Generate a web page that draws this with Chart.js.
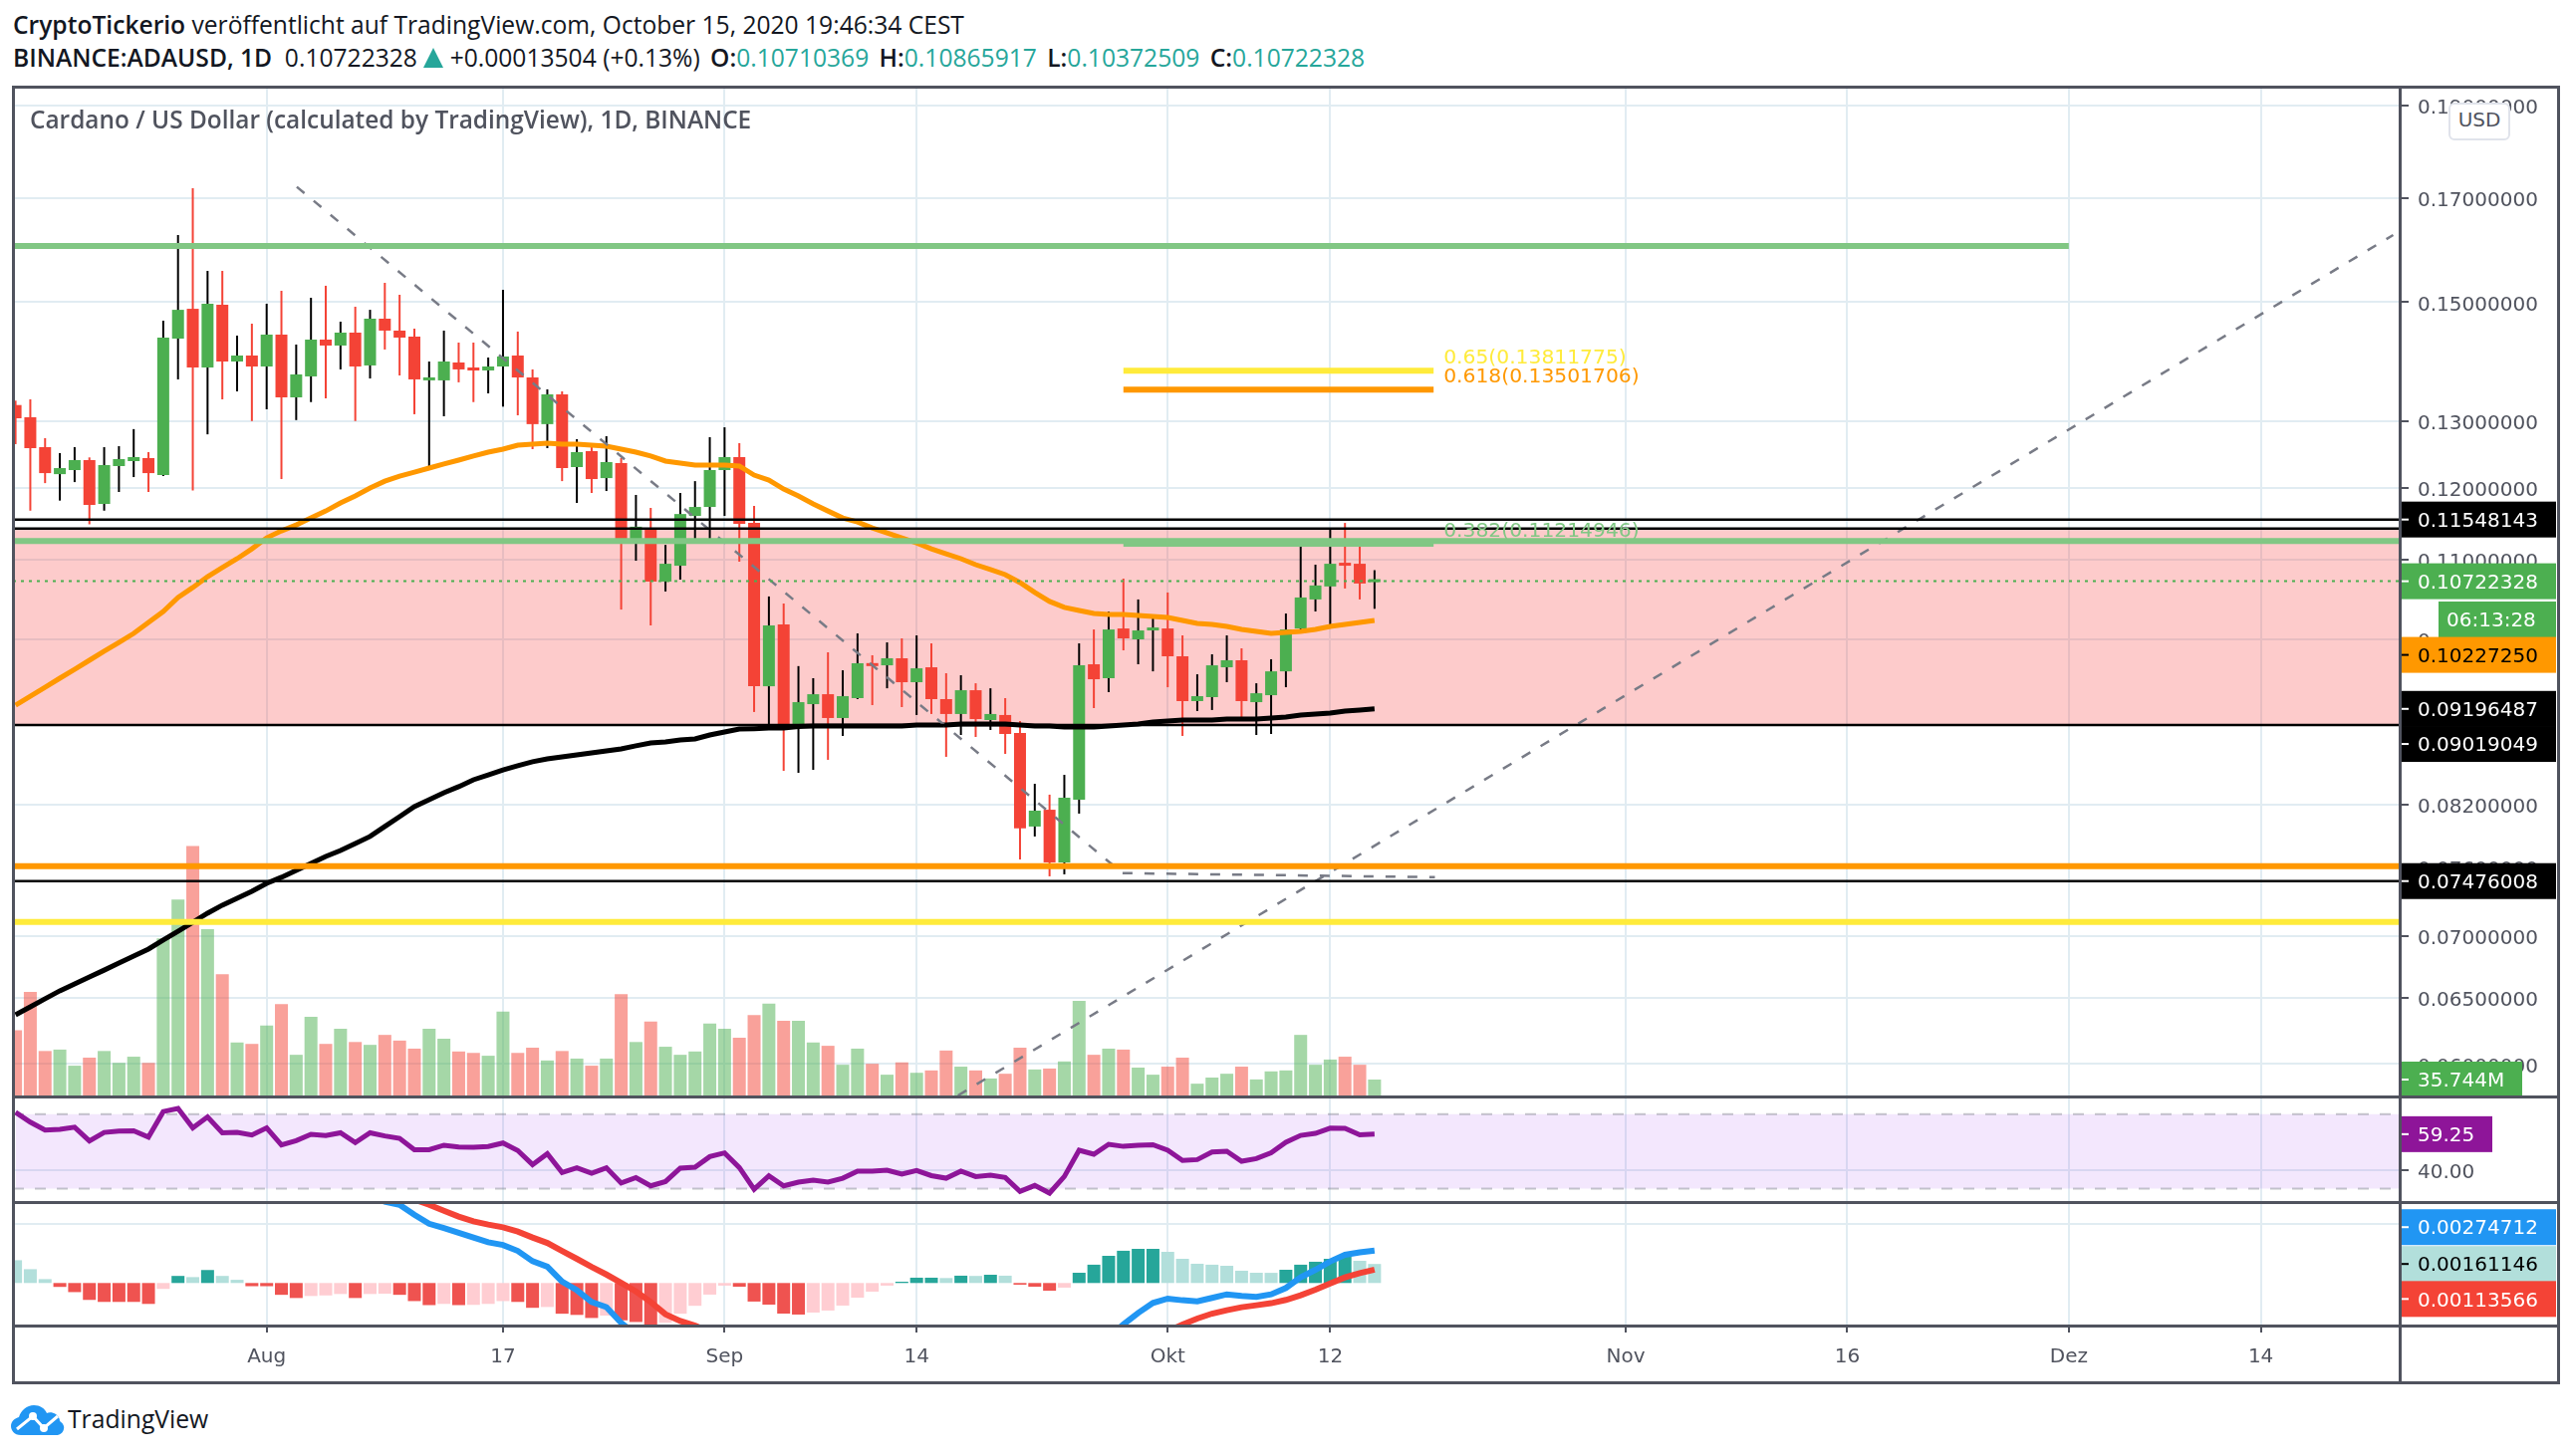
<!DOCTYPE html>
<html>
<head>
<meta charset="utf-8">
<script src="https://cdn.jsdelivr.net/npm/chart.js@4/dist/chart.umd.js"></script>
<style>
  html, body { margin: 0; padding: 0; background: #fff; }
  body { width: 2582px; height: 1462px; position: relative; overflow: hidden; font-family: "Open Sans", sans-serif; color: #131722; }
  canvas { position: absolute; left: 0; }
  .line { position: absolute; background: #50535e; }
  .head { position: absolute; left: 13px; font-size: 24.6px; white-space: pre; line-height: 32px; }
  .head b { font-weight: 600; }
  .head b.gap { margin-left: 4px; }
  .up { color: #26a69a; }
  .tri { display: inline-block; width: 0; height: 0; border-left: 10px solid transparent; border-right: 10px solid transparent; border-bottom: 20px solid #26a69a; vertical-align: -1px; }
  #title { position: absolute; left: 30px; top: 104px; font-size: 24.4px; font-weight: 600; color: #50535e; white-space: pre; line-height: 32px; }
  #usd { position: absolute; left: 2458px; top: 103px; width: 58px; height: 34px; border: 2px solid #e0e3eb; border-radius: 6px; background: #fff; color: #50535e; font: 20px "DejaVu Sans", sans-serif; text-align: center; line-height: 30px; }
  #brand { position: absolute; left: 68px; top: 1409px; font-size: 24.7px; line-height: 32px; color: #131722; }
  #logo { position: absolute; left: 11px; top: 1410px; }
</style>
</head>
<body>
<div class="head" style="top:9px"><b>CryptoTickerio</b> veröffentlicht auf TradingView.com, October 15, 2020 19:46:34 CEST</div>
<div class="head" style="top:42px"><b>BINANCE:ADAUSD, 1D</b>  0.10722328 <span class="tri"></span> +0.00013504 (+0.13%) <b class="gap">O:</b><span class="up">0.10710369</span> <b class="gap">H:</b><span class="up">0.10865917</span> <b class="gap">L:</b><span class="up">0.10372509</span> <b class="gap">C:</b><span class="up">0.10722328</span></div>

<canvas id="priceChart" width="2582" height="1014" style="top:87px"></canvas>
<canvas id="rsiChart" width="2582" height="106" style="top:1101px"></canvas>
<canvas id="macdChart" width="2582" height="182" style="top:1207px"></canvas>

<div class="line" style="left:12px;top:86px;width:2558px;height:3px"></div>
<div class="line" style="left:12px;top:1100px;width:2558px;height:3px"></div>
<div class="line" style="left:12px;top:1206px;width:2558px;height:3px"></div>
<div class="line" style="left:12px;top:1330px;width:2558px;height:3px"></div>
<div class="line" style="left:12px;top:1387px;width:2558px;height:3px"></div>
<div class="line" style="left:12px;top:86px;width:3px;height:1304px"></div>
<div class="line" style="left:2408px;top:86px;width:3px;height:1304px"></div>
<div class="line" style="left:2567px;top:86px;width:3px;height:1304px"></div>

<div id="title">Cardano / US Dollar (calculated by TradingView), 1D, BINANCE</div>
<div id="usd">USD</div>
<svg id="logo" width="54" height="32" viewBox="0 0 54 32">
  <path fill="#2196f3" d="M10 31 C3 31 0 26 0 22 C0 17 4 14 8 13 C10 6 16 1 23 1 C29 1 34 4 36 9 C38 8 42 8 45 10 C48 12 49 15 49 17 C52 19 54 22 53 25 C52 29 49 31 45 31 Z"/>
  <polyline fill="none" stroke="#fff" stroke-width="3" points="6,25 22,12 33,24 47,12"/>
  <circle cx="22" cy="12" r="4" fill="#fff"/>
  <circle cx="33" cy="24" r="4" fill="#fff"/>
</svg>
<div id="brand">TradingView</div>

<script>
// candles start on 15 Jul 2020, one entry per day
const opens = [
  .13253,.13060,.12598,.12196,.12256,.12404,.11767,.12315,.12389,.12434,
  .12182,.14355,.14879,.13865,.14952,.13965,.14066,.13882,.14424,.13376,
  .13717,.14338,.14236,.14459,.13899,.14703,.14494,.14390,.13652,.13652,
  .13949,.13855,.13816,.13882,.14066,.13700,.12952,.13424,.12300,.12538,
  .12138,.12360,.11228,.11433,.10718,.10924,.11598,.11724,.12256,.12449,
  .11501,.09450,.10179,.08999,.09249,.09360,.09096,.09316,.09715,.09691,
  .09773,.09496,.09668,.09305,.09140,.09405,.09074,.09129,.08934,.07983,
  .08146,.07646,.08245,.09703,.09542,.10130,.09998,.10106,.10130,.09797,
  .09283,.09327,.09668,.09750,.09271,.09349,.09621,.10130,.10490,.10655,
  .10963,.10950,.10710369];
const closes = [
  .13044,.12583,.12211,.12285,.12404,.11753,.12330,.12419,.12449,.12211,
  .14372,.14861,.13865,.14970,.13965,.14066,.13882,.14424,.13376,.13750,
  .14338,.14236,.14459,.13882,.14703,.14494,.14372,.13668,.13683,.13965,
  .13833,.13815,.13882,.14049,.13700,.12952,.13424,.12285,.12523,.12124,
  .12374,.11228,.11449,.10718,.10950,.11625,.11724,.12256,.12449,.11487,
  .09450,.10167,.08999,.09271,.09360,.09096,.09338,.09715,.09682,.09773,
  .09496,.09656,.09305,.09140,.09405,.09085,.09140,.08923,.07965,.08137,
  .07646,.08265,.09691,.09530,.10118,.10010,.10106,.10130,.09797,.09283,
  .09338,.09691,.09750,.09283,.09371,.09621,.10118,.10515,.10668,.10950,
  .10924,.10693,.10722328];
const highs = [
  .13323,.13344,.12735,.12509,.12598,.12444,.12598,.12613,.12875,.12523,
  .14668,.16259,.17201,.15573,.15573,.14407,.14615,.14970,.15205,.14253,
  .15078,.15297,.14651,.14916,.14861,.15351,.15132,.14528,.13965,.14494,
  .14287,.14287,.14032,.15223,.14477,.13833,.13505,.13472,.12720,.12598,
  .12765,.12434,.11895,.11711,.11201,.11923,.12094,.12750,.12903,.12659,
  .11739,.10528,.10439,.09682,.09542,.09844,.09633,.10070,.09809,.09962,
  .10010,.10046,.09950,.09599,.09576,.09484,.09427,.09316,.09063,.08404,
  .08295,.08495,.09950,.10118,.10339,.10756,.10490,.10253,.10578,.10046,
  .09587,.09820,.10046,.09891,.09484,.09762,.10314,.11242,.10938,.11417,
  .11501,.11269,.10865917];
const lows = [
  .12644,.11672,.12065,.11814,.12080,.11482,.11672,.11937,.12153,.11937,
  .12168,.13668,.11957,.12794,.13344,.13472,.13000,.13185,.12124,.13015,
  .13300,.13360,.13833,.13000,.13683,.14168,.13733,.13107,.12300,.13075,
  .13620,.13300,.13440,.13227,.13090,.12568,.12583,.12094,.11781,.11923,
  .11951,.10363,.10990,.10167,.10591,.10743,.11255,.11269,.11598,.10977,
  .09162,.08999,.08536,.08516,.08546,.08650,.08902,.09305,.09238,.09427,
  .09216,.09129,.09140,.08681,.08912,.08891,.08966,.08712,.07673,.07888,
  .07519,.07537,.08108,.09205,.09383,.09867,.09703,.09621,.09439,.08902,
  .09173,.09184,.09496,.09085,.08912,.08923,.09439,.10118,.10339,.10167,
  .10629,.10490,.10372509];
const volumesM = [
  140,221,96,99,65,82,96,71,84,71,
  334,416,529,353,258,114,111,150,195,88,
  168,111,143,115,109,130,118,101,143,122,
  95,92,86,179,92,103,76,96,80,65,
  80,216,115,158,105,88,95,154,143,124,
  172,196,160,160,114,107,67,101,69,46,
  72,50,55,97,63,55,38,48,103,57,
  59,74,202,88,101,99,61,46,63,82,
  27,40,48,63,36,53,55,130,67,78,
  84,67,35.744];
const maFast = [
  .09238,.09338,.09439,.09542,.09645,.09750,.09856,.09962,.10070,.10204,
  .10339,.10515,.10642,.10782,.10899,.11017,.11148,.11296,.11391,.11473,
  .11570,.11667,.11781,.11880,.11994,.12094,.12167,.12226,.12285,.12345,
  .12404,.12464,.12523,.12568,.12629,.12644,.12659,.12644,.12644,.12629,
  .12613,.12568,.12523,.12464,.12389,.12360,.12330,.12330,.12330,.12315,
  .12182,.12109,.11980,.11880,.11767,.11667,.11570,.11515,.11433,.11364,
  .11296,.11228,.11148,.11082,.11017,.10938,.10873,.10808,.10705,.10578,
  .10465,.10390,.10352,.10314,.10302,.10302,.10290,.10277,.10265,.10228,
  .10192,.10179,.10155,.10118,.10094,.10070,.10082,.10094,.10118,.10155,
  .10179,.10204,.10227250];
const maSlow = [
  .06366,.06427,.06490,.06552,.06607,.06662,.06717,.06775,.06832,.06889,
  .06964,.07039,.07115,.07193,.07263,.07323,.07385,.07456,.07510,.07573,
  .07636,.07701,.07756,.07821,.07888,.07983,.08079,.08177,.08245,.08315,
  .08375,.08445,.08495,.08546,.08588,.08630,.08660,.08681,.08702,.08723,
  .08744,.08765,.08797,.08828,.08838,.08859,.08870,.08912,.08944,.08976,
  .08980,.08986,.08986,.09003,.09009,.09009,.09009,.09009,.09009,.09009,
  .09009,.09020,.09020,.09020,.09031,.09031,.09031,.09031,.09020,.09009,
  .09009,.08999,.08999,.08999,.09009,.09020,.09031,.09053,.09063,.09074,
  .09074,.09074,.09085,.09085,.09085,.09096,.09107,.09129,.09140,.09151,
  .09173,.09184,.09196487];
const rsiValues = [
  71,65.7,61.5,61.9,63,55.6,60.2,60.9,61.1,57.7,
  71.4,73.1,62.6,68.5,60,60.2,58.8,62.6,53.5,55.8,
  59.2,58.5,60,54.7,60,58.3,57,50.9,50.9,53.3,
  52.4,52.2,52.6,54.5,50.5,42.9,48.8,38.7,41.2,38.3,
  41.2,33,35.9,31.5,33.8,41,41.5,47.2,49.2,41.3,
  29.7,36.9,31.5,33.5,34.5,33.5,35.6,39.4,39.4,39.9,
  37.8,39.7,37,35.6,39.4,36.5,37.2,36,28.5,31.7,
  27.6,36.5,50.6,48.5,53.8,52.7,53.3,53.6,50.6,45.1,
  45.6,49.7,50.1,44.7,46.1,49.3,54.9,58.6,59.7,62.5,
  62.4,58.9,59.25];
const macdHist = [
  .00193,.00117,.00033,-.00033,-.00077,-.00143,-.0016,-.0016,-.0016,-.00177,
  -.0005,.0006,.0005,.0011,.0006,.00027,-.00027,-.00027,-.001,-.00127,
  -.0011,-.00105,-.00093,-.00127,-.00093,-.0009,-.001,-.00153,-.00187,-.00177,
  -.00187,-.00185,-.00177,-.00153,-.0016,-.0021,-.00203,-.0026,-.0027,-.00296,
  -.00276,-.00316,-.0033,-.00356,-.00336,-.0026,-.00193,-.00098,-.00022,-.00031,
  -.00157,-.00183,-.00259,-.00267,-.0025,-.00233,-.00191,-.00124,-.00073,-.00022,
  .00011,.00045,.00045,.00042,.00062,.0006,.0007,.00062,-.00014,-.00031,
  -.00065,-.00039,.00087,.00155,.0023,.00273,.00289,.00289,.00264,.00205,
  .00163,.00155,.00146,.00104,.00087,.00086,.00112,.00155,.0018,.00205,
  .00222,.00188,.00161146];
// the lines run outside the pane for long stretches, those days stay null
const macdLine = [
  null,null,null,null,null,null,null,null,null,null,
  null,null,null,null,null,null,null,null,null,null,
  null,null,null,.0081,.0075,.00689,.00662,.00578,.00502,.00465,
  .00425,.00385,.00345,.00322,.00272,.00185,.00139,.00012,-.00061,-.00161,
  -.00204,-.00337,-.00437,null,null,null,null,null,null,null,
  null,null,null,null,null,null,null,null,null,null,
  null,null,null,null,null,null,null,null,null,null,
  null,null,null,-.0060,-.0046,-.00351,-.00253,-.00169,-.00132,-.00146,
  -.00155,-.00126,-.00096,-.0011,-.00118,-.00096,-.00042,.00048,.00112,.00183,
  .00239,.00259,.00274712];
const macdSignal = [
  null,null,null,null,null,null,null,null,null,null,
  null,null,null,null,null,null,null,null,null,null,
  null,null,null,null,null,.0078,.0074,.00708,.00662,.00612,
  .00562,.00522,.00495,.00472,.00435,.00385,.00339,.00272,.00205,.00136,
  .00072,.00002,-.00071,-.00161,-.00264,-.00321,-.00361,-.00414,null,null,
  null,null,null,null,null,null,null,null,null,null,
  null,null,null,null,null,null,null,null,null,null,
  null,null,null,null,null,null,null,-.0047,-.0041,-.00351,
  -.00301,-.00259,-.0023,-.00205,-.00188,-.00171,-.00143,-.00104,-.00056,-.00003,
  .00048,.00084,.00113566];

// day number on the x axis counted from the first candle
const tickDays = [17, 33, 48, 61, 78, 89, 109, 124, 139, 152];
const tickLabels = ['Aug', '17', 'Sep', '14', 'Okt', '12', 'Nov', '16', 'Dez', '14'];
const priceTicks = [.19, .17, .15, .13, .12, .11, .10, .082, .076, .07, .065, .06];

const lastDay = 92;
const topGreenLevel = 0.16046, midGreenLevel = 0.11255, upperBlack = 0.11548143, boxTop = 0.11422, boxBottom = 0.09019049;
const orangeLevel = 0.07612, lowBlack = 0.07476008, yellowLevel = 0.07117;
const fibDays = [75, 96];
const fibLevels = [0.13811775, 0.13501706, 0.11214946];
const fibRatios = ['0.65', '0.618', '0.382'];
const trendDown = [[19.04, .1723], [74.94, .07548], [96.09, .07511]];
const trendUp = [[63.8, .05777], [160.96, .16259]];

const xMin = -0.175, xMax = 161.4;
const chartFont = 'DejaVu Sans';
const frameColor = '#50535e', gridColor = '#e1ecf2';
const green = '#4caf50', red = '#f44336';

const days = opens.map((_, i) => i);
const points = (values) => values.map((v, i) => ({ x: i, y: v }));

function xAxis(showLabels) {
  return {
    type: 'linear', min: xMin, max: xMax, offset: false, bounds: 'data',
    border: { display: false },
    grid: { color: gridColor, lineWidth: 2, offset: false, drawTicks: showLabels, tickLength: 7, tickColor: frameColor, tickWidth: 2 },
    ticks: {
      display: showLabels, autoSkip: false, maxRotation: 0, padding: 13,
      color: frameColor, font: { family: chartFont, size: 20 },
      callback: (v) => tickLabels[tickDays.indexOf(v)]
    },
    afterBuildTicks: (s) => { s.ticks = tickDays.map((v) => ({ value: v })); },
    afterFit: (s) => { s.height = showLabels ? 58 : 0; s.paddingLeft = 0; s.paddingRight = 0; }
  };
}

function yAxis(extra, tickValues, format) {
  return Object.assign({
    position: 'right', bounds: 'data',
    border: { display: false },
    grid: { color: gridColor, lineWidth: 2, tickLength: 9, tickColor: frameColor, tickWidth: 2 },
    ticks: {
      autoSkip: false, padding: 9, labelOffset: 3, color: frameColor, font: { family: chartFont, size: 20 },
      callback: format
    },
    afterBuildTicks: (s) => { s.ticks = tickValues.map((v) => ({ value: v })); },
    afterFit: (s) => { s.width = 173; s.paddingTop = 0; s.paddingBottom = 0; }
  }, extra);
}

function hLine(value, color, width, from, to, extra) {
  return Object.assign({
    type: 'line', data: [{ x: from, y: value }, { x: to, y: value }],
    borderColor: color, borderWidth: width, pointRadius: 0, order: 1
  }, extra);
}

function trace(values, color, width, order) {
  return { type: 'line', data: points(values), borderColor: color, borderWidth: width, pointRadius: 0, tension: 0, order: order };
}

// price tags sitting on the axis, some are pushed away from their value like on the original
function tagPlugin(tags) {
  return {
    id: 'tags',
    afterDraw(chart) {
      const ctx = chart.ctx;
      ctx.save();
      ctx.font = '20px ' + chartFont;
      ctx.textBaseline = 'middle';
      tags.forEach((t) => {
        const y = chart.scales[t.axis].getPixelForValue(t.value) + (t.shift || 0);
        const left = t.left || 2408;
        ctx.fillStyle = t.bg;
        ctx.fillRect(left, y - 18, (t.right || 2566) - left, 36);
        ctx.fillStyle = t.fg;
        if (!t.left) ctx.fillRect(2409, y - 1, 9, 2);
        ctx.fillText(t.text, t.left ? left + 8 : 2427, y + 2);
      });
      ctx.restore();
    }
  };
}

const fibLabels = {
  id: 'fibLabels',
  afterDatasetsDraw(chart) {
    const ctx = chart.ctx;
    const colors = ['#ffeb3b', '#ff9800', '#81c784'];
    ctx.save();
    ctx.font = '20.3px ' + chartFont;
    ctx.textBaseline = 'middle';
    fibLevels.forEach((level, i) => {
      ctx.fillStyle = colors[i];
      ctx.fillText(fibRatios[i] + '(' + level.toFixed(8) + ')', chart.scales.x.getPixelForValue(fibDays[1]) + 10, chart.scales.y.getPixelForValue(level) - 12);
    });
    ctx.restore();
  }
};

const baseOptions = {
  responsive: false, animation: false, devicePixelRatio: 1, events: [],
  layout: { padding: { left: 13, right: 0, top: 0, bottom: 0 } },
  plugins: { legend: { display: false }, tooltip: { enabled: false } }
};

const isUp = days.map((i) => closes[i] >= opens[i]);

new Chart(document.getElementById('priceChart'), {
  type: 'bar',
  data: {
    datasets: [
      hLine(boxTop, 'rgba(0,0,0,0)', 0, xMin, xMax, { fill: { value: boxBottom }, backgroundColor: 'rgba(248,60,60,0.265)', order: 9 }),
      {
        data: days.map((i) => ({ x: i, y: volumesM[i] })), yAxisID: 'volume', grouped: false, barThickness: 13,
        inflateAmount: 0, order: 8,
        backgroundColor: isUp.map((u) => (u ? 'rgba(76,175,80,0.5)' : 'rgba(244,67,54,0.5)'))
      },
      {
        data: days.map((i) => ({ x: i, y: [lows[i], highs[i]] })), grouped: false, barThickness: 2, inflateAmount: 0, order: 7,
        backgroundColor: isUp.map((u) => (u ? '#000000' : red))
      },
      {
        data: days.map((i) => ({ x: i, y: [opens[i], closes[i]] })), grouped: false, barThickness: 12, inflateAmount: 0, minBarLength: 3, order: 6,
        backgroundColor: isUp.map((u) => (u ? green : red))
      },
      trace(maSlow, '#000000', 5, 5),
      trace(maFast, '#ff9800', 5, 5),
      { type: 'line', data: trendDown.map((p) => ({ x: p[0], y: p[1] })), borderColor: '#787b86', borderWidth: 2.5, borderDash: [10, 12], pointRadius: 0, order: 4 },
      { type: 'line', data: trendUp.map((p) => ({ x: p[0], y: p[1] })), borderColor: '#787b86', borderWidth: 2.5, borderDash: [10, 12], pointRadius: 0, order: 4 },
      hLine(closes[lastDay], green, 2, xMin, xMax, { borderDash: [3, 5], order: 3 }),
      hLine(topGreenLevel, '#81c784', 6, xMin, tickDays[8]),
      hLine(midGreenLevel, '#81c784', 6, xMin, xMax),
      hLine(fibLevels[2], '#81c784', 6, fibDays[0], fibDays[1]),
      hLine(fibLevels[0], '#ffeb3b', 6, fibDays[0], fibDays[1]),
      hLine(fibLevels[1], '#ff9800', 6, fibDays[0], fibDays[1]),
      hLine(upperBlack, '#000000', 2.5, xMin, xMax),
      hLine(boxTop, '#000000', 2.5, xMin, xMax),
      hLine(boxBottom, '#000000', 2.5, xMin, xMax),
      hLine(orangeLevel, '#ff9800', 6, xMin, xMax),
      hLine(lowBlack, '#000000', 2.5, xMin, xMax),
      hLine(yellowLevel, '#ffeb3b', 6, xMin, xMax)
    ]
  },
  options: Object.assign({}, baseOptions, {
    scales: {
      x: xAxis(false),
      y: yAxis({ type: 'logarithmic', min: 0.05770, max: 0.19436 }, priceTicks, (v) => v.toFixed(8)),
      volume: { display: false, min: 0, max: 2132, bounds: 'data' }
    }
  }),
  plugins: [fibLabels, tagPlugin([
    { axis: 'y', value: upperBlack, text: upperBlack.toFixed(8), bg: '#000000', fg: '#ffffff' },
    { axis: 'y', value: closes[lastDay], text: closes[lastDay].toFixed(8), bg: green, fg: '#ffffff' },
    { axis: 'y', value: closes[lastDay], shift: 38.4, left: 2448, text: '06:13:28', bg: green, fg: '#ffffff' },
    { axis: 'y', value: maFast[lastDay], shift: 34.5, text: maFast[lastDay].toFixed(8), bg: '#ff9800', fg: '#000000' },
    { axis: 'y', value: maSlow[lastDay], text: maSlow[lastDay].toFixed(8), bg: '#000000', fg: '#ffffff' },
    { axis: 'y', value: boxBottom, shift: 19, text: boxBottom.toFixed(8), bg: '#000000', fg: '#ffffff' },
    { axis: 'y', value: lowBlack, text: lowBlack.toFixed(8), bg: '#000000', fg: '#ffffff' },
    { axis: 'volume', value: volumesM[lastDay], right: 2532, text: volumesM[lastDay].toFixed(3) + 'M', bg: green, fg: '#ffffff' }
  ])]
});

new Chart(document.getElementById('rsiChart'), {
  type: 'line',
  data: {
    datasets: [
      hLine(70, 'rgba(0,0,0,0)', 0, 0, xMax, { fill: { value: 30 }, backgroundColor: 'rgba(149,38,235,0.11)', order: 5 }),
      hLine(70, 'rgba(120,123,134,0.42)', 2, xMin, xMax, { borderDash: [11, 11], order: 4 }),
      hLine(30, 'rgba(120,123,134,0.42)', 2, xMin, xMax, { borderDash: [11, 11], order: 4 }),
      trace(rsiValues, '#8e1599', 5, 1)
    ]
  },
  options: Object.assign({}, baseOptions, {
    scales: {
      x: xAxis(false),
      y: yAxis({ type: 'linear', min: 22.8, max: 79.5 }, [40], (v) => v.toFixed(2))
    }
  }),
  plugins: [tagPlugin([
    { axis: 'y', value: rsiValues[lastDay], right: 2502, text: rsiValues[lastDay].toFixed(2), bg: '#8e1599', fg: '#ffffff' }
  ])]
});

new Chart(document.getElementById('macdChart'), {
  type: 'bar',
  data: {
    datasets: [
      {
        data: points(macdHist), grouped: false, barThickness: 13, inflateAmount: 0, order: 3,
        backgroundColor: macdHist.map((h, i) => {
          if (h >= 0) return h >= macdHist[i - 1] ? '#26a69a' : '#b2dfdb';
          return h <= macdHist[i - 1] ? '#ef5350' : '#ffcdd2';
        })
      },
      trace(macdSignal, red, 6, 2),
      trace(macdLine, '#2196f3', 6, 1)
    ]
  },
  options: Object.assign({}, baseOptions, {
    scales: {
      x: xAxis(true),
      y: yAxis({ type: 'linear', min: -0.0036, max: 0.006854 }, [0.005], (v) => v.toFixed(8))
    }
  }),
  plugins: [tagPlugin([
    { axis: 'y', value: macdLine[lastDay], shift: -23.5, text: macdLine[lastDay].toFixed(8), bg: '#2196f3', fg: '#ffffff' },
    { axis: 'y', value: macdHist[lastDay], text: macdHist[lastDay].toFixed(8), bg: '#b2dfdb', fg: '#000000' },
    { axis: 'y', value: macdSignal[lastDay], shift: 29.5, text: macdSignal[lastDay].toFixed(8), bg: red, fg: '#ffffff' }
  ])]
});
</script>
</body>
</html>
